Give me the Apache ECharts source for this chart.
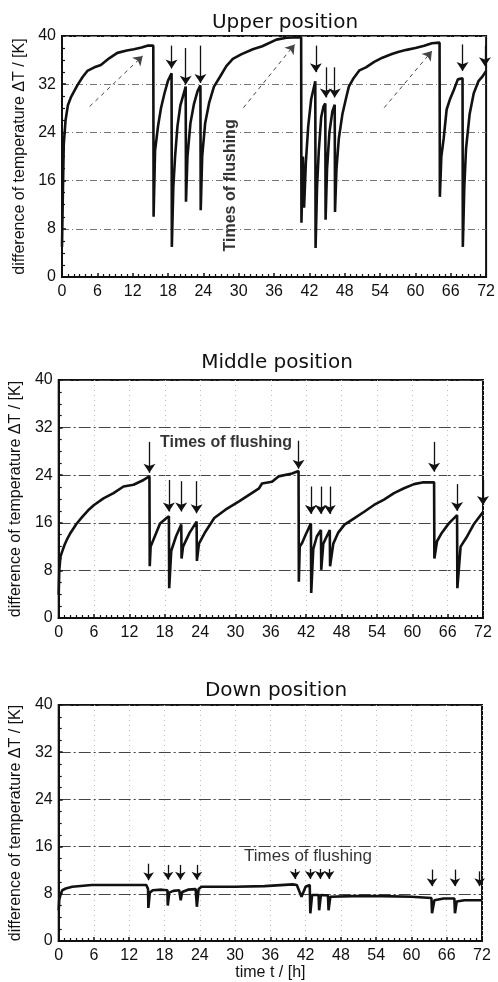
<!DOCTYPE html>
<html><head><meta charset="utf-8">
<script src="https://cdn.jsdelivr.net/npm/echarts@6/dist/echarts.min.js"></script>
<style>html,body{margin:0;padding:0;background:#fff}#c{width:498px;height:982px}</style>
</head><body><div id="c"></div>
<script>
// ---------- data ----------
const panelTitles = ['Upper position', 'Middle position', 'Down position'];
const xTicks = [0, 6, 12, 18, 24, 30, 36, 42, 48, 54, 60, 66, 72];
const yTicks = [0, 8, 16, 24, 32, 40];
const yName = 'difference of temperature ΔT / [K]';
const xName = 'time t / [h]';
const flushLabel = 'Times of flushing';

const upperT = [0,0.15,0.3,0.6,1.0,1.5,2.6,3.5,4.3,5.5,6.6,8.0,9.4,11.0,12.2,13.5,14.5,15.5,
  15.55,15.8,16.3,16.8,17.4,18.0,18.6,
  18.65,18.9,19.2,19.6,20.1,21.0,
  21.05,21.3,21.8,22.4,23.0,23.5,
  23.55,23.8,24.3,25.0,25.8,26.8,27.9,29.0,30.5,32.4,34.0,36.4,38.1,40.6,
  40.65,40.9,41.1,41.4,41.8,42.3,43.0,
  43.05,43.3,43.6,44.0,44.4,44.7,
  44.75,45.0,45.4,45.9,46.3,
  46.35,46.6,47.0,47.6,48.3,48.7,49.5,50.5,51.6,53.0,54.4,56.0,57.2,58.5,60.0,61.5,62.8,64.1,
  64.15,64.4,64.8,65.3,65.9,66.5,67.2,68.0,
  68.05,68.3,68.6,69.2,69.9,70.7,71.4,72];
const upperV = [5,14,22,26,28.5,29.8,31.8,33.2,34.2,34.8,35.2,36.3,37.2,37.6,37.8,38.1,38.4,38.4,
  10,21,25,28,30.5,32.6,33.8,
  5,15,20,25,28.5,31.6,
  12.5,20,25.5,28.7,30.8,31.8,
  11.1,20,25.5,29,31.6,33.2,35,36.2,37,37.8,38.3,39.4,39.7,39.8,
  9,20,11.5,19,25,29.5,32.5,
  4.8,15,21,26.5,28.3,28.8,
  9.5,18,24,27.5,28.6,
  10.8,18,23,27,30,31.6,33,34.3,34.8,35.7,36.4,37,37.4,37.7,38,38.4,38.8,38.9,
  13.3,20,23,27.8,29.6,31,32.8,33,
  5,15,21.4,27,30.5,32.5,33.3,34.2];

const middleT = [0,0.1,0.3,0.6,1.0,1.5,2.0,3.0,4.0,5.0,6.0,7.6,9.3,11,12.7,14.4,15.4,
  15.45,15.6,16.3,17.2,18.3,18.7,
  18.75,19.1,19.9,20.8,
  20.85,21.1,22.2,23.4,
  23.45,23.8,24.9,26.4,28.3,30.6,32.3,34.0,34.5,36.2,37.3,39.6,40.7,
  40.75,40.9,41.3,41.9,42.8,
  42.85,43.2,43.8,44.5,
  44.55,44.9,46.0,
  46.05,46.6,47.4,48.5,50.2,51.9,53.5,55.2,56.9,58.6,60.3,61.9,63.7,
  63.75,64.2,65.0,66.2,67.6,
  67.65,68.2,69.3,70.4,72];
const middleV = [3.9,8,10.3,11.2,12.3,13.4,14.3,15.8,17.0,18.1,19.0,20.1,21,22.1,22.4,23.2,23.8,
  8.7,12,13.7,15.9,16.8,17.1,
  5,11.3,13.7,15.7,
  10,12,14.3,16.2,
  9.6,12.5,14.5,16.8,18.2,19.6,20.7,21.8,22.6,22.9,23.8,24.3,24.7,
  6.1,12,12.6,14,15.9,
  4.2,11.6,13.7,14.8,
  8.1,12.5,14.8,
  8.7,12.5,14.3,15.7,16.8,17.9,19,19.9,21,21.8,22.5,22.8,22.8,
  10,12.9,14.3,15.9,17.3,
  5,12,13.7,15.7,17.8];

const downT = [0,0.1,0.3,0.6,1.2,2.3,5.6,10,14.9,15.2,
  15.25,15.5,16.0,17.5,18.5,
  18.55,18.8,19.5,20.5,20.7,
  20.75,21.0,22.0,23.3,23.45,
  23.5,23.8,24.3,30,35,39.8,40.5,41.3,42.0,42.7,
  42.8,43.1,44.2,
  44.3,44.6,45.8,
  45.9,46.2,50,55,60,63.4,
  63.5,63.9,65.5,67.3,
  67.4,67.7,69,72];
const downV = [5.2,7,7.8,8.6,8.9,9.2,9.5,9.5,9.5,8.8,
  5.6,8.2,8.6,8.7,8.6,
  6,8.2,8.5,8.6,8.5,
  6.9,8.3,8.7,8.8,8.8,
  5.8,8.8,9.2,9.2,9.3,9.6,9.5,7.5,9.2,9.5,
  4.7,7.8,7.8,
  5.2,7.8,7.7,
  5.2,7.5,7.6,7.6,7.5,7.3,
  4.7,6.9,7.2,7.2,
  4.7,6.7,6.9,6.9];

// flushing arrows: time, start value, end value
const upperArrowT = [18.6, 21.0, 23.5, 43.1, 44.8, 46.3, 68.0, 71.8];
const upperArrowFrom = [38.4, 38.0, 38.4, 38.4, 34.8, 34.8, 38.6, 38.4];
const upperArrowTo = [34.6, 31.9, 32.2, 34.0, 29.8, 29.8, 34.2, 35.0];
// dashed pointers from the label (start t, start v, end t, end v)
const upperPtrT0 = [4.7, 30.8, 54.7];
const upperPtrV0 = [28.3, 28.1, 28.1];
const upperPtrT1 = [13.7, 39.5, 62.8];
const upperPtrV1 = [36.7, 38.6, 37.5];
const upperLabelAt = [28.6, 15.2];

const middleArrowT = [15.4, 40.7, 63.7, 18.7, 20.8, 23.4, 42.8, 44.5, 46.0, 67.6, 72.0];
const middleArrowFrom = [29.6, 29.8, 29.6, 23.2, 23.0, 23.0, 22.1, 22.1, 22.1, 22.5, 23.2];
const middleArrowTo = [24.4, 25.1, 24.6, 17.9, 17.9, 17.6, 17.5, 17.5, 17.5, 18.0, 19.0];
const middleLabelAt = [28.4, 29.4];

const downArrowT = [15.3, 18.6, 20.7, 23.5, 40.2, 42.8, 44.5, 46.0, 63.5, 67.4, 71.6];
const downArrowFrom = [13.1, 12.9, 12.9, 12.9, 12.2, 12.2, 12.2, 12.2, 12.1, 12.1, 11.8];
const downArrowTo = [10.3, 10.4, 10.4, 10.4, 10.5, 10.5, 10.5, 10.5, 9.3, 9.3, 9.3];
const downLabelAt = [42.4, 14.4];

// ---------- chart ----------
const FONT = 'Liberation Sans';
const grids = [
  {left: 62, right: 8, top: 36, height: 241},
  {left: 55, right: 15, top: 380, height: 238},
  {left: 53, right: 16, top: 705, height: 240}
];
const gridLineStyles = [
  {color: '#777', width: 1, type: [7, 3, 1, 3]},
  {color: '#444', width: 1, type: [12, 3, 2, 3]},
  {color: '#444', width: 1, type: [12, 3, 2, 3]}
];
const showV = [false, true, true];
const xAxisNames = ['', '', xName];
const nameGaps = [32, 27, 26];

function pairs(ts, vs) { return ts.map((t, i) => [t, vs[i]]); }
function arrows(ts, f, to, size) {
  return ts.map((t, i) => [
    {coord: [t, f[i]], symbol: 'none', symbolSize: 1},
    {coord: [t, to[i]], symbol: 'arrow', symbolSize: size}
  ]);
}

const option = {
  animation: false,
  backgroundColor: '#fff',
  textStyle: {fontFamily: FONT, color: '#111'},
  title: panelTitles.map((tx, i) => ({
    text: tx,
    left: [280, 272, 271][i], textAlign: 'center',
    top: [8, 348, 676][i],
    textStyle: {fontFamily: 'DejaVu Sans', fontSize: 20, fontWeight: 'normal', color: '#111'}
  })),
  grid: grids.map(g => Object.assign({show: true, borderColor: '#111', borderWidth: 2, backgroundColor: 'transparent'}, g)),
  xAxis: grids.map((g, i) => ({
    gridIndex: i, type: 'value', min: 0, max: 72, interval: 6,
    name: xAxisNames[i], nameLocation: 'middle', nameGap: 24,
    nameTextStyle: {fontFamily: FONT, fontSize: 16, color: '#111'},
    axisLine: {show: true, lineStyle: {color: '#111', width: 2}},
    axisTick: {show: true, inside: true, length: 4, lineStyle: {color: '#111', width: 1.5}},
    minorTick: {show: true, splitNumber: 6, length: 3, lineStyle: {color: '#111', width: 1.2}},
    axisLabel: {show: true, margin: 7, fontSize: 16, color: '#111', fontFamily: FONT},
    splitLine: {show: showV[i], lineStyle: {color: '#bbb', width: 1, type: [1, 4]}}
  })),
  yAxis: grids.map((g, i) => ({
    gridIndex: i, type: 'value', min: 0, max: 40, interval: 8,
    name: yName, nameLocation: 'middle', nameGap: nameGaps[i],
    nameTextStyle: {fontFamily: FONT, fontSize: 16, color: '#111'},
    axisLine: {show: true, lineStyle: {color: '#111', width: 2}},
    axisTick: {show: true, inside: true, length: 4, lineStyle: {color: '#111', width: 1.5}},
    minorTick: {show: true, splitNumber: 4, length: 3, lineStyle: {color: '#111', width: 1.2}},
    axisLabel: {show: true, margin: 6, fontSize: 16, color: '#111', fontFamily: FONT},
    splitLine: {show: true, lineStyle: gridLineStyles[i]}
  })),
  series: []
};

const datasets = [[upperT, upperV], [middleT, middleV], [downT, downV]];
const arrowSets = [
  [upperArrowT, upperArrowFrom, upperArrowTo],
  [middleArrowT, middleArrowFrom, middleArrowTo],
  [downArrowT, downArrowFrom, downArrowTo]
];
const labelPos = [upperLabelAt, middleLabelAt, downLabelAt];
const arrowSize = [9, 9, 8];

datasets.forEach((d, i) => {
  option.series.push({
    type: 'line', xAxisIndex: i, yAxisIndex: i,
    data: pairs(d[0], d[1]), showSymbol: false, symbol: 'none',
    lineStyle: {color: '#111', width: 2.6}, z: 5,
    markLine: {
      silent: true, symbol: ['none', 'arrow'], symbolSize: arrowSize[i],
      label: {show: false},
      lineStyle: {color: '#111', width: 1.3, type: 'solid'},
      itemStyle: {color: '#111'},
      data: arrows(arrowSets[i][0], arrowSets[i][1], arrowSets[i][2], arrowSize[i])
    }
  });
});

// dashed pointer arrows for upper panel
option.series.push({
  type: 'line', xAxisIndex: 0, yAxisIndex: 0, data: [], symbol: 'none',
  markLine: {
    silent: true, symbol: ['none', 'arrow'], symbolSize: 9, label: {show: false},
    lineStyle: {color: '#444', width: 1, type: [4, 4]},
    itemStyle: {color: '#444'},
    data: upperPtrT0.map((t, i) => [
      {coord: [t, upperPtrV0[i]], symbol: 'none'},
      {coord: [upperPtrT1[i], upperPtrV1[i]], symbol: 'arrow', symbolSize: 9}
    ])
  }
});

// "Times of flushing" labels
const labelStyles = [
  {rotate: 90, fontWeight: 'bold', fontSize: 16, backgroundColor: 'transparent'},
  {rotate: 0, fontWeight: 'bold', fontSize: 16, backgroundColor: '#fff'},
  {rotate: 0, fontWeight: 'normal', fontSize: 17, backgroundColor: '#fff'}
];
labelPos.forEach((p, i) => {
  option.series.push({
    type: 'scatter', xAxisIndex: i, yAxisIndex: i, symbolSize: 1,
    itemStyle: {color: 'transparent'}, z: 6, silent: true,
    data: [p],
    label: Object.assign({show: true, position: 'inside', formatter: flushLabel,
      color: '#000', fontFamily: FONT, padding: [0, 2]}, labelStyles[i])
  });
});

const chart = echarts.init(document.getElementById('c'), null, {renderer: 'canvas'});
chart.setOption(option);
</script></body></html>
